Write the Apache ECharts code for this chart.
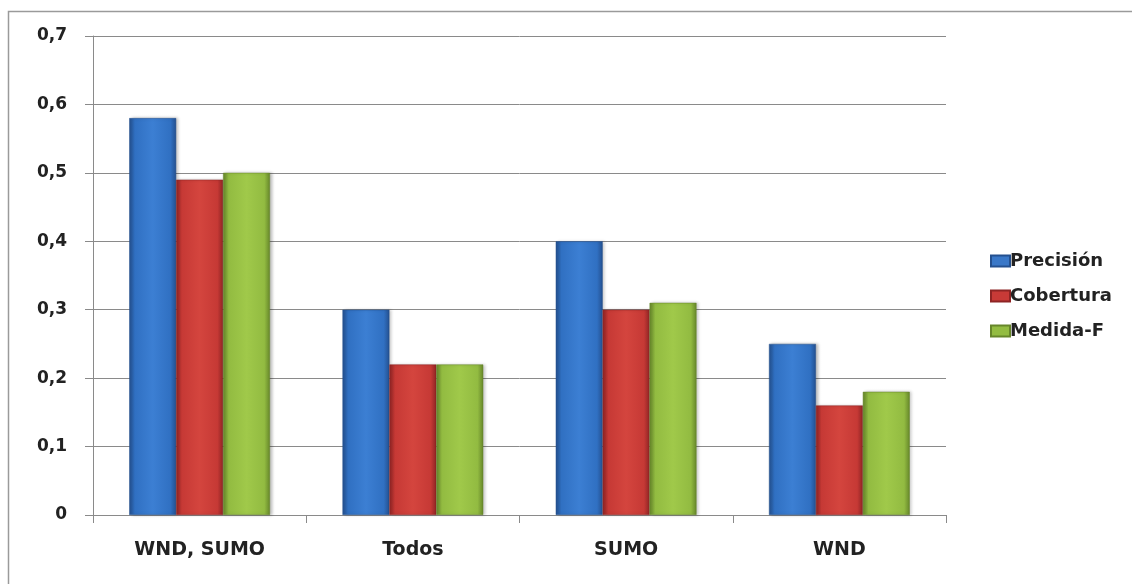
<!DOCTYPE html>
<html>
<head>
<meta charset="utf-8">
<script src="https://cdn.jsdelivr.net/npm/echarts@6/dist/echarts.min.js"></script>
<style>
  html, body { margin: 0; padding: 0; background: #fff; }
  #chart { width: 1132px; height: 584px; }
</style>
</head>
<body>
<div id="chart"></div>
<script>
// Categories and values for each measure
const categories = ['WND, SUMO', 'Todos', 'SUMO', 'WND'];
const precision = [0.58, 0.30, 0.40, 0.25];
const coverage = [0.49, 0.22, 0.30, 0.16];
const fMeasure = [0.50, 0.22, 0.31, 0.18];
const seriesNames = ['Precisión', 'Cobertura', 'Medida-F'];
const yTicks = { min: 0, max: 0.7, interval: 0.1 };

const FONT = '"DejaVu Sans", sans-serif';

// Horizontal gradient: darker edges, lighter middle, like a rounded bar
function barFill(edge, mid, light) {
  return new echarts.graphic.LinearGradient(0, 0, 1, 0, [
    { offset: 0, color: edge },
    { offset: 0.12, color: mid },
    { offset: 0.5, color: light },
    { offset: 0.88, color: mid },
    { offset: 1, color: edge }
  ]);
}

const palette = [
  { edge: '#24508f', mid: '#3070c2', light: '#3c7fd3', legend: '#3a78c8' },
  { edge: '#8e2424', mid: '#c63935', light: '#d4453e', legend: '#c83a37' },
  { edge: '#66862a', mid: '#92bb41', light: '#a0c94a', legend: '#93bc42' }
];

function makeSeries(name, data, p) {
  return {
    name: name,
    type: 'bar',
    data: data,
    barGap: '0%',
    barCategoryGap: '34%',
    itemStyle: {
      color: barFill(p.edge, p.mid, p.light),
      borderColor: p.edge,
      borderWidth: 0.5,
      shadowColor: 'rgba(0,0,0,0.25)',
      shadowBlur: 3,
      shadowOffsetX: 2
    },
    emphasis: { disabled: true }
  };
}

const chart = echarts.init(document.getElementById('chart'), null, { renderer: 'canvas' });

chart.setOption({
  animation: false,
  backgroundColor: '#ffffff',
  graphic: [{
    type: 'rect',
    shape: { x: 8.5, y: 11.5, width: 1200, height: 700 },
    style: { fill: 'none', stroke: '#9a9a9a', lineWidth: 1.5 },
    silent: true,
    z: -10
  }],
  grid: { left: 93, right: 186, top: 36, bottom: 69 },
  legend: {
    orient: 'vertical',
    left: 985,
    top: 247,
    itemWidth: 19,
    itemHeight: 11,
    itemGap: 17,
    icon: 'rect',
    data: seriesNames.map((n, i) => ({ name: n, itemStyle: { color: palette[i].legend } })),
    textStyle: { fontFamily: FONT, fontWeight: 'bold', fontSize: 18, color: '#222', padding: [0, 0, 0, -5] }
  },
  xAxis: {
    type: 'category',
    data: categories,
    axisLine: { lineStyle: { color: '#8a8a8a', width: 1 } },
    axisTick: { show: true, length: 8, lineStyle: { color: '#8a8a8a' } },
    axisLabel: { margin: 26, fontFamily: FONT, fontWeight: 'bold', fontSize: 19, color: '#222' }
  },
  yAxis: {
    type: 'value',
    min: yTicks.min,
    max: yTicks.max,
    interval: yTicks.interval,
    axisLine: { show: true, lineStyle: { color: '#8a8a8a', width: 1 } },
    axisTick: { show: true, length: 8, lineStyle: { color: '#8a8a8a' } },
    splitLine: { lineStyle: { color: '#8a8a8a', width: 1 } },
    axisLabel: {
      margin: 26,
      fontFamily: FONT,
      fontWeight: 'bold',
      fontSize: 17,
      color: '#222',
      formatter: v => (Math.round(v * 10) / 10).toString().replace('.', ',')
    }
  },
  series: [
    makeSeries(seriesNames[0], precision, palette[0]),
    makeSeries(seriesNames[1], coverage, palette[1]),
    makeSeries(seriesNames[2], fMeasure, palette[2])
  ]
});
</script>
</body>
</html>
